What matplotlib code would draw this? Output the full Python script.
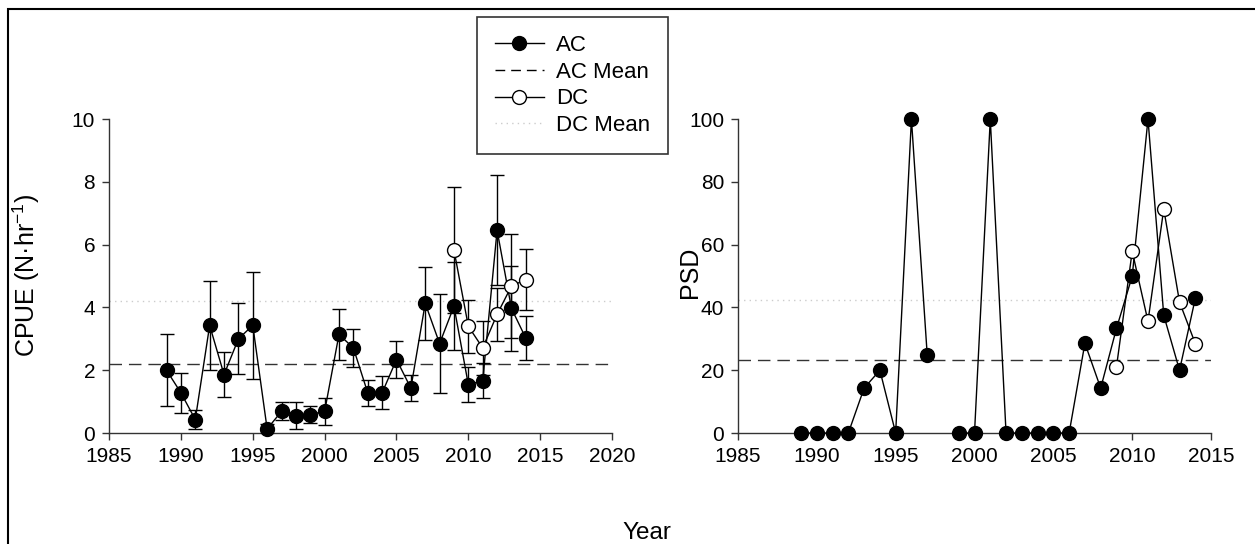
import numpy as np
import matplotlib.pyplot as plt
from matplotlib.lines import Line2D
from matplotlib.patches import Rectangle

plt.rcParams['font.family'] = ['Liberation Sans', 'DejaVu Sans']
plt.rcParams['mathtext.fontset'] = 'custom'
plt.rcParams['mathtext.rm'] = 'Liberation Sans'
plt.rcParams['mathtext.default'] = 'regular'

# CPUE data (left panel)
ac_years = np.arange(1989, 2015)
ac_cpue = [2.00, 1.28, 0.43, 3.43, 1.86, 3.00, 3.43, 0.13, 0.69, 0.55, 0.59, 0.69, 3.14,
           2.71, 1.28, 1.28, 2.34, 1.43, 4.13, 2.85, 4.04, 1.54, 1.67, 6.46, 3.97, 3.02]
ac_cpue_err = [1.14, 0.63, 0.29, 1.41, 0.72, 1.13, 1.70, 0.15, 0.29, 0.43, 0.28, 0.43, 0.82,
               0.60, 0.42, 0.53, 0.60, 0.42, 1.16, 1.59, 1.40, 0.55, 0.57, 1.76, 1.36, 0.70]
dc_years = np.arange(2009, 2015)
dc_cpue = [5.83, 3.40, 2.71, 3.78, 4.68, 4.89]
dc_cpue_err = [2.00, 0.85, 0.85, 0.85, 1.65, 0.98]
ac_cpue_mean = 2.21
dc_cpue_mean = 4.21

# PSD data (right panel); 1998 missing
ac_psd = [0, 0, 0, 0, 14.3, 20, 0, 100, 25, np.nan, 0, 0, 100, 0, 0, 0, 0, 0,
          28.6, 14.3, 33.3, 50, 100, 37.5, 20, 42.9]
dc_psd = [21.0, 57.9, 35.6, 71.4, 41.7, 28.5]
ac_psd_mean = 23.4
dc_psd_mean = 42.5

fig = plt.figure(figsize=(12.55, 5.44), dpi=100)
ax1 = fig.add_axes([0.0869, 0.204, 0.4008, 0.577])
ax2 = fig.add_axes([0.588, 0.204, 0.377, 0.577])

mk = dict(markersize=10, markeredgewidth=1.0, markeredgecolor='black', color='black', linewidth=1.0)

# left panel
ax1.errorbar(ac_years, ac_cpue, yerr=ac_cpue_err, fmt='none', ecolor='black', elinewidth=1.0,
             capsize=4.7, capthick=1.0, zorder=2)
ax1.errorbar(dc_years, dc_cpue, yerr=dc_cpue_err, fmt='none', ecolor='black', elinewidth=1.0,
             capsize=4.7, capthick=1.0, zorder=2)
ax1.plot(ac_years, ac_cpue, marker='o', markerfacecolor='black', zorder=4, clip_on=False, **mk)
ax1.plot(dc_years, dc_cpue, marker='o', markerfacecolor='white', zorder=5, clip_on=False, **mk)
ax1.axhline(ac_cpue_mean, color='#333333', linestyle=(0, (9, 5)), linewidth=1.0, zorder=1)
ax1.axhline(dc_cpue_mean, color='#cccccc', linestyle=(0, (1, 3)), linewidth=1.0, zorder=1)
ax1.set_xlim(1985, 2020)
ax1.set_ylim(0, 10)
ax1.set_xticks(range(1985, 2021, 5))
ax1.set_yticks(range(0, 11, 2))
ax1.set_ylabel('CPUE (N·hr$^{-1}$)', fontsize=18)
ax1.yaxis.set_label_coords(42 / 1255, 0.494, transform=fig.transFigure)

# right panel
ax2.plot(ac_years, ac_psd, marker='o', markerfacecolor='black', zorder=4, clip_on=False, **mk)
ax2.plot(dc_years, dc_psd, marker='o', markerfacecolor='white', zorder=5, clip_on=False, **mk)
ax2.axhline(ac_psd_mean, color='#333333', linestyle=(0, (9, 5)), linewidth=1.0, zorder=1)
ax2.axhline(dc_psd_mean, color='#cccccc', linestyle=(0, (1, 3)), linewidth=1.0, zorder=1)
ax2.set_xlim(1985, 2015)
ax2.set_ylim(0, 100)
ax2.set_xticks(range(1985, 2016, 5))
ax2.set_yticks(range(0, 101, 20))
ax2.set_ylabel('PSD', fontsize=18)
ax2.yaxis.set_label_coords(702 / 1255, 0.5, transform=fig.transFigure)

for ax in (ax1, ax2):
    for s in ('top', 'right'):
        ax.spines[s].set_visible(False)
    for s in ('left', 'bottom'):
        ax.spines[s].set_color('#333333')
        ax.spines[s].set_linewidth(1.0)
    ax.tick_params(direction='out', length=5, width=1.0, color='#333333', labelsize=15, pad=5)

fig.text(647 / 1255, 1 - 539 / 544, 'Year', ha='center', va='baseline', fontsize=17.5)

handles = [
    Line2D([], [], marker='o', markerfacecolor='black', **mk),
    Line2D([], [], color='black', linestyle=(0, (7, 4.3)), linewidth=1.0),
    Line2D([], [], marker='o', markerfacecolor='white', **mk),
    Line2D([], [], color='#cccccc', linestyle=(0, (1, 3)), linewidth=1.0),
]
labels = ['AC', 'AC Mean', 'DC', 'DC Mean']
leg = fig.legend(handles, labels, loc='upper left', bbox_to_anchor=(477 / 1255, 1 - 17 / 544),
                 borderaxespad=0, fontsize=16, frameon=True, fancybox=False, edgecolor='black',
                 handlelength=2.2, handletextpad=0.55, labelspacing=0.26, borderpad=0.8)
leg.get_frame().set_linewidth(1.2)

fig.patches.append(Rectangle((0.0064, -0.1), 1.1, 0.1 + 0.9835, transform=fig.transFigure,
                             fill=False, edgecolor='black', linewidth=1.5))

fig.savefig('out.png', dpi=100)
